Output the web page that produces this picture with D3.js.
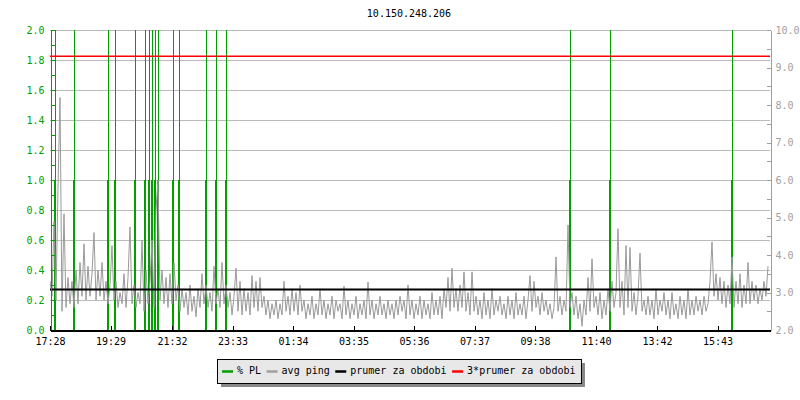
<!DOCTYPE html>
<html><head><meta charset="utf-8">
<script src="https://cdn.jsdelivr.net/npm/d3@7"></script>
<style>
body{margin:0;background:#fff}
svg text{font-family:"DejaVu Sans Mono",monospace;font-size:10px}
</style>
</head><body>
<svg id="chart" width="800" height="400"></svg>
<script>
// ---------------- data ----------------
const chartTitle = "10.150.248.206";
const timeStart = "2000-01-01 17:28";
const timeEnd = "2000-01-02 17:28";
const xTickTimes = ["2000-01-01 17:28","2000-01-01 19:29","2000-01-01 21:32","2000-01-01 23:33",
  "2000-01-02 01:34","2000-01-02 03:35","2000-01-02 05:36","2000-01-02 07:37",
  "2000-01-02 09:38","2000-01-02 11:40","2000-01-02 13:42","2000-01-02 15:43"];
const leftTickValues = [0,0.1,0.2,0.3,0.4,0.5,0.6,0.7,0.8,0.9,1.0,1.1,1.2,1.3,1.4,1.5,1.6,1.7,1.8,1.9,2.0];
const leftLabelValues = [0,0.2,0.4,0.6,0.8,1.0,1.2,1.4,1.6,1.8,2.0];
const rightTickValues = [2,2.5,3,3.5,4,4.5,5,5.5,6,6.5,7,7.5,8,8.5,9,9.5,10];
const rightLabelValues = [2,3,4,5,6,7,8,9,10];
const leftDomain = [0,2];
const rightDomain = [2,10];

// avg ping (ms, right axis), one sample every 4 minutes from timeStart
const pingStepMinutes = 4;
const pingValues = [
 3.3,2.9,4.9,2.8,5.8,8.2,2.5,5.1,2.6,3.4, 2.7,3.3,2.6,3.6,2.7,3.8,2.9,4.3,2.8,3.7,
 2.9,3.5,4.6,2.8,3.6,2.9,3.8,2.8,3.3,2.7, 3.2,4.25,2.8,3.3,2.6,3.0,2.7,3.5,2.6,3.4,
 4.75,2.7,3.2,2.6,3.0,2.7,4.4,2.5,3.6,2.7, 3.3,4.4,2.6,5.2,6.0,2.8,3.6,2.7,3.4,2.6,
 3.5,2.7,3.8,2.8,3.2,2.5,3.1,2.6,3.0,2.4, 3.2,2.5,2.9,2.35,3.1,2.6,3.5,2.7,3.2,2.6,
 3.0,2.5,3.7,2.7,3.1,2.6,3.8,2.7,3.2,2.6,
 3.0,2.4,2.9,3.65,2.5,3.3,2.4,3.1,2.5,3.0, 2.4,3.45,2.6,3.3,2.5,3.4,2.6,2.9,2.4,2.8,
 2.3,2.7,2.4,2.8,2.3,2.7,2.4,3.3,2.5,2.9, 2.4,3.1,2.5,3.0,2.4,3.2,2.5,2.8,2.3,2.7,
 2.4,2.9,2.3,2.7,2.4,3.1,2.4,2.8,2.3,2.7, 2.4,2.9,2.3,2.8,2.5,2.7,2.3,3.17,2.4,2.8,
 2.3,2.7,2.4,2.9,2.3,2.7,2.4,2.8,2.3,3.28, 2.4,2.8,2.3,2.7,2.4,2.9,2.4,2.7,2.3,2.8,
 2.4,2.7,2.3,2.8,2.4,2.9,2.5,2.8,2.3,3.2,
 2.4,2.8,2.3,2.7,2.4,2.9,2.3,2.8,2.4,2.7, 2.3,3.0,2.4,2.8,2.4,2.9,2.3,3.1,2.6,3.4,
 2.5,3.65,2.6,3.1,2.5,3.2,2.6,3.55,2.5,3.0, 2.4,3.55,2.5,2.9,2.4,2.8,2.3,3.0,2.4,2.8,
 2.3,3.1,2.4,2.8,2.5,2.9,2.4,2.7,2.3,2.9, 2.4,2.8,2.3,3.0,2.4,2.7,2.4,2.9,2.3,2.8,
 3.45,2.5,3.3,2.6,2.9,2.4,3.0,2.5,2.8,2.4, 2.7,2.3,2.6,3.95,2.5,2.9,2.4,2.8,2.5,4.8,
 2.6,3.0,2.4,2.9,2.3,2.7,2.1,2.8,2.4,3.4,
 2.5,3.9,2.6,2.9,2.4,3.0,2.3,2.8,2.4,3.1, 2.5,3.3,2.6,3.0,4.7,2.6,3.3,2.4,4.25,2.6,
 4.2,2.5,3.0,2.4,2.9,4.05,2.5,2.8,2.4,2.9, 2.4,2.8,2.3,3.1,2.4,2.8,2.5,3.0,2.4,2.8,
 2.3,3.0,2.4,2.7,2.3,2.9,2.4,2.8,2.3,3.1, 2.4,2.8,2.4,2.9,2.5,2.8,2.4,2.9,2.5,2.7,
 3.3,4.35,2.9,3.5,2.8,3.4,2.7,3.3,2.6,3.2, 2.7,3.95,2.6,3.3,2.7,3.5,2.6,3.2,2.7,3.8,
 2.7,3.3,2.8,3.2,2.7,3.1,2.8,3.3,2.9,3.7
];

// packet loss events (% PL, left axis)
const plTimes = ["2000-01-01 17:37","2000-01-01 18:16","2000-01-01 19:24","2000-01-01 19:38",
  "2000-01-01 20:18","2000-01-01 20:38","2000-01-01 20:46","2000-01-01 20:52","2000-01-01 20:57",
  "2000-01-01 21:04","2000-01-01 21:34","2000-01-01 21:46","2000-01-01 22:40","2000-01-01 23:00",
  "2000-01-01 23:19","2000-01-02 10:47","2000-01-02 12:07","2000-01-02 16:13"];
const plPeakValues = [100,100,100,100,100,100,100,100,100,100,100,100,100,100,100,100,100,100];
const plStepValues = [1,1,1,1,1,1,1,1,1,1,1,1,1,1,1,1,1,1];

const meanPing = 3.08;        // prumer za obdobi
const tripleMeanPing = 9.3;   // 3*prumer za obdobi

const legendLabels = ["% PL","avg ping","prumer za obdobi","3*prumer za obdobi"];
const legendColors = ["#00a000","#a0a0a0","#000000","#ff0000"];

// ---------------- drawing ----------------
const parse = d3.timeParse("%Y-%m-%d %H:%M");
const svg = d3.select("#chart");
const M = {l:50, r:770, t:30, b:330};
const FONT = "DejaVu Sans Mono, monospace";

const x = d3.scaleTime().domain([parse(timeStart), parse(timeEnd)]).range([M.l, M.r]);
const yL = d3.scaleLinear().domain(leftDomain).range([M.b, M.t]);
const yR = d3.scaleLinear().domain(rightDomain).range([M.b, M.t]);

// title
svg.append("text").attr("x", 409).attr("y", 17).attr("text-anchor","middle")
  .attr("fill","#000").text(chartTitle);

// grid
svg.append("g").selectAll("line").data(leftLabelValues.filter(v=>v>0)).join("line")
  .attr("x1", M.l).attr("x2", M.r)
  .attr("y1", d=>Math.round(yL(d))+0.5).attr("y2", d=>Math.round(yL(d))+0.5)
  .attr("stroke","#bbbbbb").attr("stroke-width",1);

// clip
svg.append("clipPath").attr("id","plot").append("rect")
  .attr("x", M.l).attr("y", M.t).attr("width", M.r-M.l).attr("height", M.b-M.t);
const plot = svg.append("g").attr("clip-path","url(#plot)");

// PL lines
const plData = plTimes.map((t,i)=>({t:parse(t), peak:plPeakValues[i], step:plStepValues[i]}));
const yMaxL = leftDomain[1];
plot.append("g").selectAll("line").data(plData).join("line")
  .attr("x1", d=>Math.round(x(d.t))+0.5).attr("x2", d=>Math.round(x(d.t))+0.5)
  .attr("y1", yL(0)).attr("y2", d=>yL(Math.min(d.peak, yMaxL)))
  .attr("stroke","#00a000").attr("stroke-width",1);
plot.append("g").selectAll("line").data(plData).join("line")
  .attr("x1", d=>Math.round(x(d.t))).attr("x2", d=>Math.round(x(d.t)))
  .attr("y1", yL(0)).attr("y2", d=>yL(Math.min(d.step, yMaxL)))
  .attr("stroke","#00a000").attr("stroke-width",2);

// ping
const t0 = parse(timeStart).getTime();
const pingLine = d3.line()
  .x((d,i)=>x(new Date(t0 + i*pingStepMinutes*60000)))
  .y(d=>yR(d));
plot.append("path").datum(pingValues).attr("d", pingLine)
  .attr("fill","none").attr("stroke","#9a9a9a").attr("stroke-width",1);

// mean lines
plot.append("line").attr("x1",M.l).attr("x2",M.r)
  .attr("y1", yR(meanPing)).attr("y2", yR(meanPing))
  .attr("stroke","#000").attr("stroke-width",2);
plot.append("line").attr("x1",M.l).attr("x2",M.r)
  .attr("y1", yR(tripleMeanPing)).attr("y2", yR(tripleMeanPing))
  .attr("stroke","#ff0000").attr("stroke-width",1.5);

// axes
const fmt1 = d3.format(".1f");
const isIn = (arr,v)=>arr.some(a=>Math.abs(a-v)<1e-9);

const gL = svg.append("g").attr("transform",`translate(${M.l+0.5},0)`)
  .call(d3.axisLeft(yL).tickValues(leftTickValues).tickSizeInner(-4).tickSizeOuter(0).tickPadding(6)
    .tickFormat(v=>isIn(leftLabelValues,v)?fmt1(v):""));
gL.attr("font-family",FONT).attr("font-size",10);
gL.select(".domain").attr("stroke","#00a000");
gL.selectAll(".tick line").attr("stroke","#00a000");
gL.selectAll(".tick text").attr("fill","#00a000");

const gR = svg.append("g").attr("transform",`translate(${M.r+0.5},0)`)
  .call(d3.axisRight(yR).tickValues(rightTickValues).tickSizeInner(-4).tickSizeOuter(0).tickPadding(5)
    .tickFormat(v=>isIn(rightLabelValues,v)?fmt1(v):""));
gR.attr("font-family",FONT).attr("font-size",10);
gR.select(".domain").attr("stroke","#a0a0a0");
gR.selectAll(".tick line").attr("stroke","#a0a0a0");
gR.selectAll(".tick text").attr("fill","#a0a0a0");

const gX = svg.append("g").attr("transform",`translate(0,${M.b+0.5})`)
  .call(d3.axisBottom(x).tickValues(xTickTimes.map(parse)).tickSizeInner(-5).tickSizeOuter(0).tickPadding(7)
    .tickFormat(d3.timeFormat("%H:%M")));
gX.attr("font-family",FONT).attr("font-size",10);
gX.select(".domain").attr("stroke","#000").attr("stroke-width",1.5);
gX.selectAll(".tick line").attr("stroke","#000");
gX.selectAll(".tick text").attr("fill","#000");
svg.selectAll(".domain,.tick line").attr("shape-rendering","crispEdges");

// legend
const lg = svg.append("g");
const shadow = lg.append("rect").attr("fill","#888");
const box = lg.append("rect").attr("fill","#e8e8e8").attr("stroke","#000").attr("stroke-width",1);
let cx = 222;
const ly = 374;
legendLabels.forEach((lab,i)=>{
  lg.append("line").attr("x1",cx).attr("x2",cx+11).attr("y1",371.5).attr("y2",371.5)
    .attr("stroke",legendColors[i]).attr("stroke-width",2.5);
  const t = lg.append("text").attr("x",cx+15).attr("y",ly).attr("fill","#000").text(lab);
  cx += 15 + t.node().getComputedTextLength() + 5.5;
});
const bx = 217.5, by = 359.5, bw = cx - 217.5 + 0.5, bh = 24;
box.attr("x",bx).attr("y",by).attr("width",bw).attr("height",bh);
shadow.attr("x",bx+3.5).attr("y",by+3.5).attr("width",bw).attr("height",bh);
</script>
</body></html>
